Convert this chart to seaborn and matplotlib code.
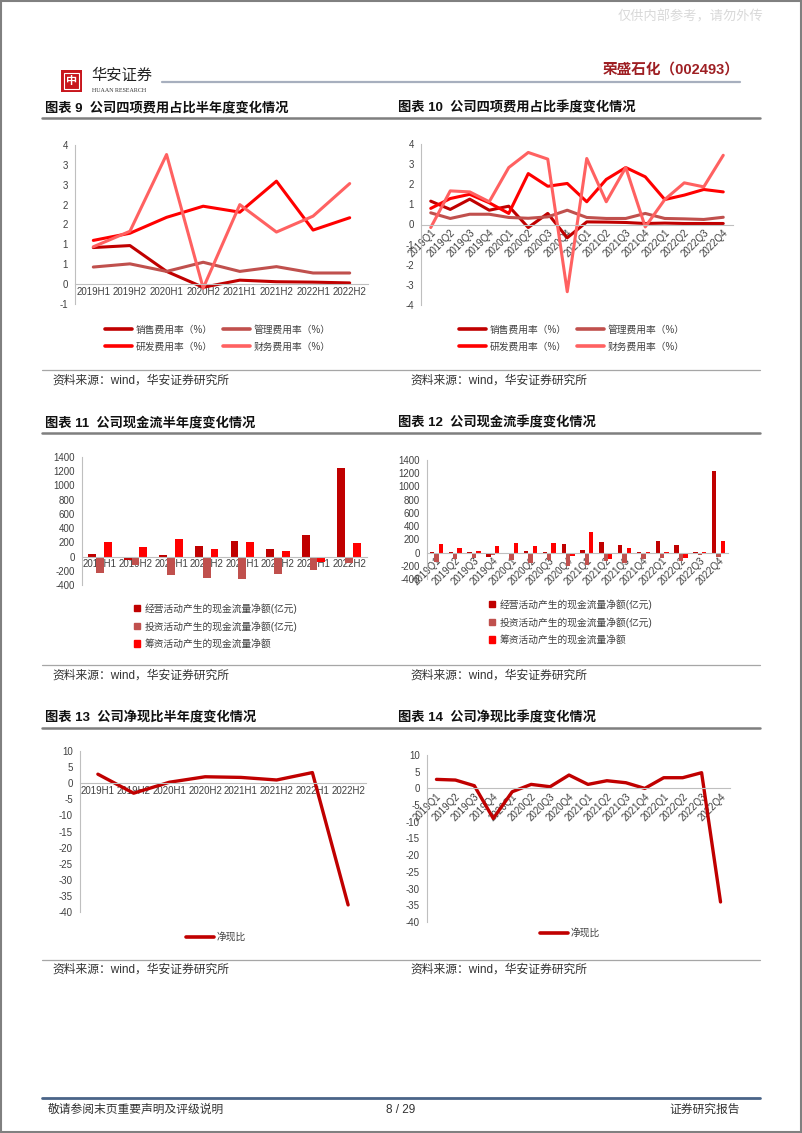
import numpy as np
import pandas as pd
import matplotlib
matplotlib.use("Agg")
import matplotlib.pyplot as plt
import seaborn as sns
from matplotlib.lines import Line2D
from matplotlib.patches import Rectangle
from matplotlib.ticker import FuncFormatter, MultipleLocator, FixedLocator

# ---------------- data ----------------
halves = ['2019H1', '2019H2', '2020H1', '2020H2', '2021H1', '2021H2', '2022H1', '2022H2']
quarters = ['2019Q1', '2019Q2', '2019Q3', '2019Q4', '2020Q1', '2020Q2', '2020Q3', '2020Q4',
            '2021Q1', '2021Q2', '2021Q3', '2021Q4', '2022Q1', '2022Q2', '2022Q3', '2022Q4']

fee_names = ['销售费用率（%）', '管理费用率（%）', '研发费用率（%）', '财务费用率（%）']
fee_colors = ['#C00000', '#C0504D', '#FF0000', '#FF6161']

sales_h = [0.92, 0.97, 0.32, -0.08, 0.10, 0.06, 0.05, 0.03]
admin_h = [0.43, 0.51, 0.32, 0.55, 0.32, 0.44, 0.28, 0.28]
rnd_h = [1.10, 1.28, 1.68, 1.96, 1.81, 2.59, 1.36, 1.67]
fin_h = [0.94, 1.33, 3.26, -0.10, 2.00, 1.31, 1.71, 2.53]

sales_q = [1.16, 0.75, 1.26, 0.71, 0.91, -0.15, 0.55, -0.66, 0.13, 0.12, 0.10, 0.05, 0.07, 0.05, 0.05, 0.05]
admin_q = [0.58, 0.30, 0.51, 0.51, 0.35, 0.31, 0.38, 0.71, 0.35, 0.30, 0.30, 0.55, 0.30, 0.28, 0.25, 0.36]
rnd_q = [0.80, 1.29, 1.50, 1.08, 0.55, 2.53, 1.90, 2.04, 1.13, 2.24, 2.83, 2.37, 1.24, 1.46, 1.74, 1.62]
fin_q = [-0.15, 1.67, 1.62, 1.13, 2.83, 3.58, 3.25, -3.34, 3.28, 1.13, 2.83, -0.12, 1.24, 2.07, 1.87, 3.44]

cf_names = ['经营活动产生的现金流量净额(亿元)', '投资活动产生的现金流量净额(亿元)', '筹资活动产生的现金流量净额']
cf_colors = ['#C00000', '#C0504D', '#FF0000']

op_h = [30, -45, 15, 155, 215, 110, 310, 1250]
inv_h = [-230, -120, -260, -300, -320, -250, -190, -90]
fin_cf_h = [210, 140, 250, 100, 210, 85, -80, 195]

op_q = [5, 2, 2, -60, -20, 30, 10, 135, 45, 165, 110, 2, 180, 120, 5, 1230]
inv_q = [-140, -100, -75, -40, -110, -160, -120, -200, -190, -130, -160, -100, -80, -130, -30, -60]
fin_cf_q = [130, 70, 30, 95, 140, 100, 145, -45, 315, -100, 70, 2, 2, -75, 5, 175]

ratio_name = '净现比'
ratio_h = [2.8, -3.1, 0.3, 2.0, 1.8, 1.0, 3.3, -37.8]
ratio_q = [2.7, 2.5, 0.8, -9.0, -1.0, 1.2, 0.5, 4.0, 1.2, 2.3, 1.7, 0.0, 3.2, 3.2, 4.7, -34.0]

# ---------------- style ----------------
sns.set_theme(style='white')
plt.rcParams['font.family'] = ['Liberation Sans', 'Noto Sans CJK SC']
plt.rcParams['axes.unicode_minus'] = False

W, H = 802, 1133
fig = plt.figure(figsize=(W / 100, H / 100), dpi=100)
fig.patch.set_facecolor('white')

TICK_C = '#404040'
AX_C = '#BFBFBF'


def box(x0, y0, x1, y1):
    return [x0 / W, 1 - y1 / H, (x1 - x0) / W, (y1 - y0) / H]


def fx(x):
    return x / W


def fy(y):
    return 1 - y / H


def style_axes(ax, n, ylim, yticks, rotate=False, fmt=None):
    ax.set_xlim(-0.5, n - 0.5)
    ax.set_ylim(*ylim)
    ax.set_yticks(yticks)
    if fmt is not None:
        ax.yaxis.set_major_formatter(FuncFormatter(fmt))
    for s in ['top', 'right']:
        ax.spines[s].set_visible(False)
    ax.spines['left'].set_color(AX_C)
    ax.spines['left'].set_linewidth(0.8)
    ax.spines['bottom'].set_color(AX_C)
    ax.spines['bottom'].set_linewidth(0.8)
    ax.spines['bottom'].set_position(('data', 0))
    ax.set_axisbelow(True)
    ax.xaxis.set_minor_locator(FixedLocator(np.arange(-0.5, n, 1.0)))
    ax.tick_params(axis='x', which='major', length=0, pad=2, labelsize=7, colors=TICK_C)
    ax.tick_params(axis='x', which='minor', length=3, width=0.8, color=AX_C, direction='out')
    ax.tick_params(axis='y', which='major', length=2, width=0.8, color=AX_C, pad=3,
                   labelsize=7, labelcolor=TICK_C, direction='out')
    ax.set_xlabel('')
    ax.set_ylabel('')
    ax.grid(False)
    ax.set_facecolor('none')
    if rotate:
        for lab in ax.get_xticklabels():
            lab.set_rotation(45)
            lab.set_ha('right')
            lab.set_va('top')
            lab.set_rotation_mode('anchor')


def round_fmt(v, pos):
    s = 1 if v >= 0 else -1
    return str(int(s * np.floor(abs(v) + 0.5 + 1e-9)))


def long_df(periods, names, series):
    rows = []
    for name, vals in zip(names, series):
        for p, v in zip(periods, vals):
            rows.append((p, name, v))
    return pd.DataFrame(rows, columns=['period', 'series', 'value'])


fee_pal = dict(zip(fee_names, fee_colors))
cf_pal = dict(zip(cf_names, cf_colors))


def fee_legend(ax, cx, cy):
    handles = [Line2D([], [], color=c, lw=2.6) for c in fee_colors]
    order = [0, 2, 1, 3]
    ax.legend([handles[i] for i in order], [fee_names[i] for i in order], ncol=2,
              loc='center', bbox_to_anchor=(fx(cx), fy(cy)), bbox_transform=fig.transFigure,
              frameon=False, fontsize=7, handlelength=2.8, columnspacing=1.0,
              labelspacing=0.75, handletextpad=0.4, labelcolor=TICK_C)


def cf_legend(ax, cx, cy):
    handles = [Rectangle((0, 0), 1, 1, color=c) for c in cf_colors]
    ax.legend(handles, cf_names, ncol=1, loc='center',
              bbox_to_anchor=(fx(cx), fy(cy)), bbox_transform=fig.transFigure,
              frameon=False, fontsize=7, handlelength=0.6, handleheight=0.6,
              labelspacing=0.75, handletextpad=0.5, labelcolor=TICK_C)


def ratio_legend(ax, color, cx, cy):
    ax.legend([Line2D([], [], color=color, lw=2.6)], [ratio_name], loc='center',
              bbox_to_anchor=(fx(cx), fy(cy)), bbox_transform=fig.transFigure,
              frameon=False, fontsize=7, handlelength=2.8, handletextpad=0.3,
              labelcolor=TICK_C)


# ---------------- chart 9 ----------------
ax9 = fig.add_axes(box(75, 145, 368, 304))
df9 = long_df(halves, fee_names, [sales_h, admin_h, rnd_h, fin_h])
sns.lineplot(data=df9, x='period', y='value', hue='series', hue_order=fee_names,
             palette=fee_pal, linewidth=2.2, sort=False, legend=False, ax=ax9)
style_axes(ax9, len(halves), (-0.5, 3.5), np.arange(-0.5, 3.51, 0.5), fmt=round_fmt)
fee_legend(ax9, 218, 338)

# ---------------- chart 10 ----------------
ax10 = fig.add_axes(box(421, 144, 733, 305))
df10 = long_df(quarters, fee_names, [sales_q, admin_q, rnd_q, fin_q])
sns.lineplot(data=df10, x='period', y='value', hue='series', hue_order=fee_names,
             palette=fee_pal, linewidth=2.2, sort=False, legend=False, ax=ax10)
style_axes(ax10, len(quarters), (-4, 4), np.arange(-4, 4.1, 1), rotate=True)
fee_legend(ax10, 572, 338)

# ---------------- chart 11 ----------------
ax11 = fig.add_axes(box(82, 457, 367, 585))
df11 = long_df(halves, cf_names, [op_h, inv_h, fin_cf_h])
sns.barplot(data=df11, x='period', y='value', hue='series', order=halves, hue_order=cf_names,
            palette=cf_pal, saturation=1, errorbar=None, width=0.66, gap=0,
            linewidth=0, legend=False, ax=ax11)
style_axes(ax11, len(halves), (-400, 1400), np.arange(-400, 1401, 200))
cf_legend(ax11, 216, 626)

# ---------------- chart 12 ----------------
ax12 = fig.add_axes(box(427, 460, 728, 579))
df12 = long_df(quarters, cf_names, [op_q, inv_q, fin_cf_q])
sns.barplot(data=df12, x='period', y='value', hue='series', order=quarters, hue_order=cf_names,
            palette=cf_pal, saturation=1, errorbar=None, width=0.7, gap=0,
            linewidth=0, legend=False, ax=ax12)
style_axes(ax12, len(quarters), (-400, 1400), np.arange(-400, 1401, 200), rotate=True)
cf_legend(ax12, 571, 622)

# ---------------- chart 13 ----------------
ax13 = fig.add_axes(box(80, 751, 366, 912))
df13 = pd.DataFrame({'period': halves, 'value': ratio_h})
sns.lineplot(data=df13, x='period', y='value', color='#C00000', linewidth=2.4,
             sort=False, ax=ax13)
style_axes(ax13, len(halves), (-40, 10), np.arange(-40, 11, 5))
ratio_legend(ax13, '#C00000', 216, 937)

# ---------------- chart 14 ----------------
ax14 = fig.add_axes(box(427, 755, 730, 922))
df14 = pd.DataFrame({'period': quarters, 'value': ratio_q})
sns.lineplot(data=df14, x='period', y='value', color='#C00000', linewidth=2.4,
             sort=False, ax=ax14)
style_axes(ax14, len(quarters), (-40, 10), np.arange(-40, 11, 5), rotate=True)
ratio_legend(ax14, '#C00000', 570, 933)

# ---------------- page decorations ----------------
def hline(y, x0, x1, color, lw):
    fig.add_artist(Line2D([fx(x0), fx(x1)], [fy(y), fy(y)], color=color, lw=lw,
                          transform=fig.transFigure))


def txt(x, y, s, **kw):
    fig.text(fx(x), fy(y), s, **kw)


# page border
fig.add_artist(Rectangle((0.001, 0.001), 0.998, 0.998, fill=False, edgecolor='#808080',
                         lw=1.5, transform=fig.transFigure))

# watermark
txt(690, 17, '仅供内部参考，请勿外传', ha='center', va='center', fontsize=9.5, color='#D9D9D9')

# logo
fig.add_artist(Rectangle((fx(61), fy(92)), (82 - 61) / W, (92 - 70) / H, facecolor='#C8161D',
                         edgecolor='none', transform=fig.transFigure))
fig.add_artist(Rectangle((fx(64), fy(89)), (79 - 64) / W, (89 - 73) / H, facecolor='none',
                         edgecolor='white', lw=0.8, transform=fig.transFigure))
txt(71.5, 81, '中', ha='center', va='center', fontsize=8, color='white', fontweight='bold')
txt(91, 76, '华安证券', ha='left', va='center', fontsize=11, color='#222222')
txt(92, 90, 'HUAAN RESEARCH', ha='left', va='center', fontsize=4.3, color='#333333',
    family='Liberation Serif')
hline(82, 162, 740, '#A7AFBE', 1.6)
txt(740, 70, '荣盛石化（002493）', ha='right', va='center', fontsize=10.5, color='#9E1F23',
    fontweight='bold')

# section titles
titles = [(45, 108, '图表 9  公司四项费用占比半年度变化情况'),
          (398, 108, '图表 10  公司四项费用占比季度变化情况'),
          (45, 423, '图表 11  公司现金流半年度变化情况'),
          (398, 423, '图表 12  公司现金流季度变化情况'),
          (45, 718, '图表 13  公司净现比半年度变化情况'),
          (398, 718, '图表 14  公司净现比季度变化情况')]
for x, y, s in titles:
    txt(x, y, s, ha='left', va='center', fontsize=9.5, fontweight='bold', color='#111111')
for y in [118, 433, 728]:
    hline(y, 42, 760, '#7F7F7F', 1.8)
for y in [370, 665, 960]:
    hline(y, 42, 760, '#A6A6A6', 0.9)
for y in [381, 676, 970]:
    for x in [52, 410]:
        txt(x, y, '资料来源：wind，华安证券研究所', ha='left', va='center', fontsize=8.5,
            color='#333333')

# footer
hline(1098, 42, 760, '#4A6488', 2.0)
txt(48, 1110, '敬请参阅末页重要声明及评级说明', ha='left', va='center', fontsize=8.5, color='#333333')
txt(401, 1110, '8 / 29', ha='center', va='center', fontsize=8.5, color='#333333')
txt(740, 1110, '证券研究报告', ha='right', va='center', fontsize=8.5, color='#333333')

fig.savefig('out.png', dpi=100, facecolor='white')
